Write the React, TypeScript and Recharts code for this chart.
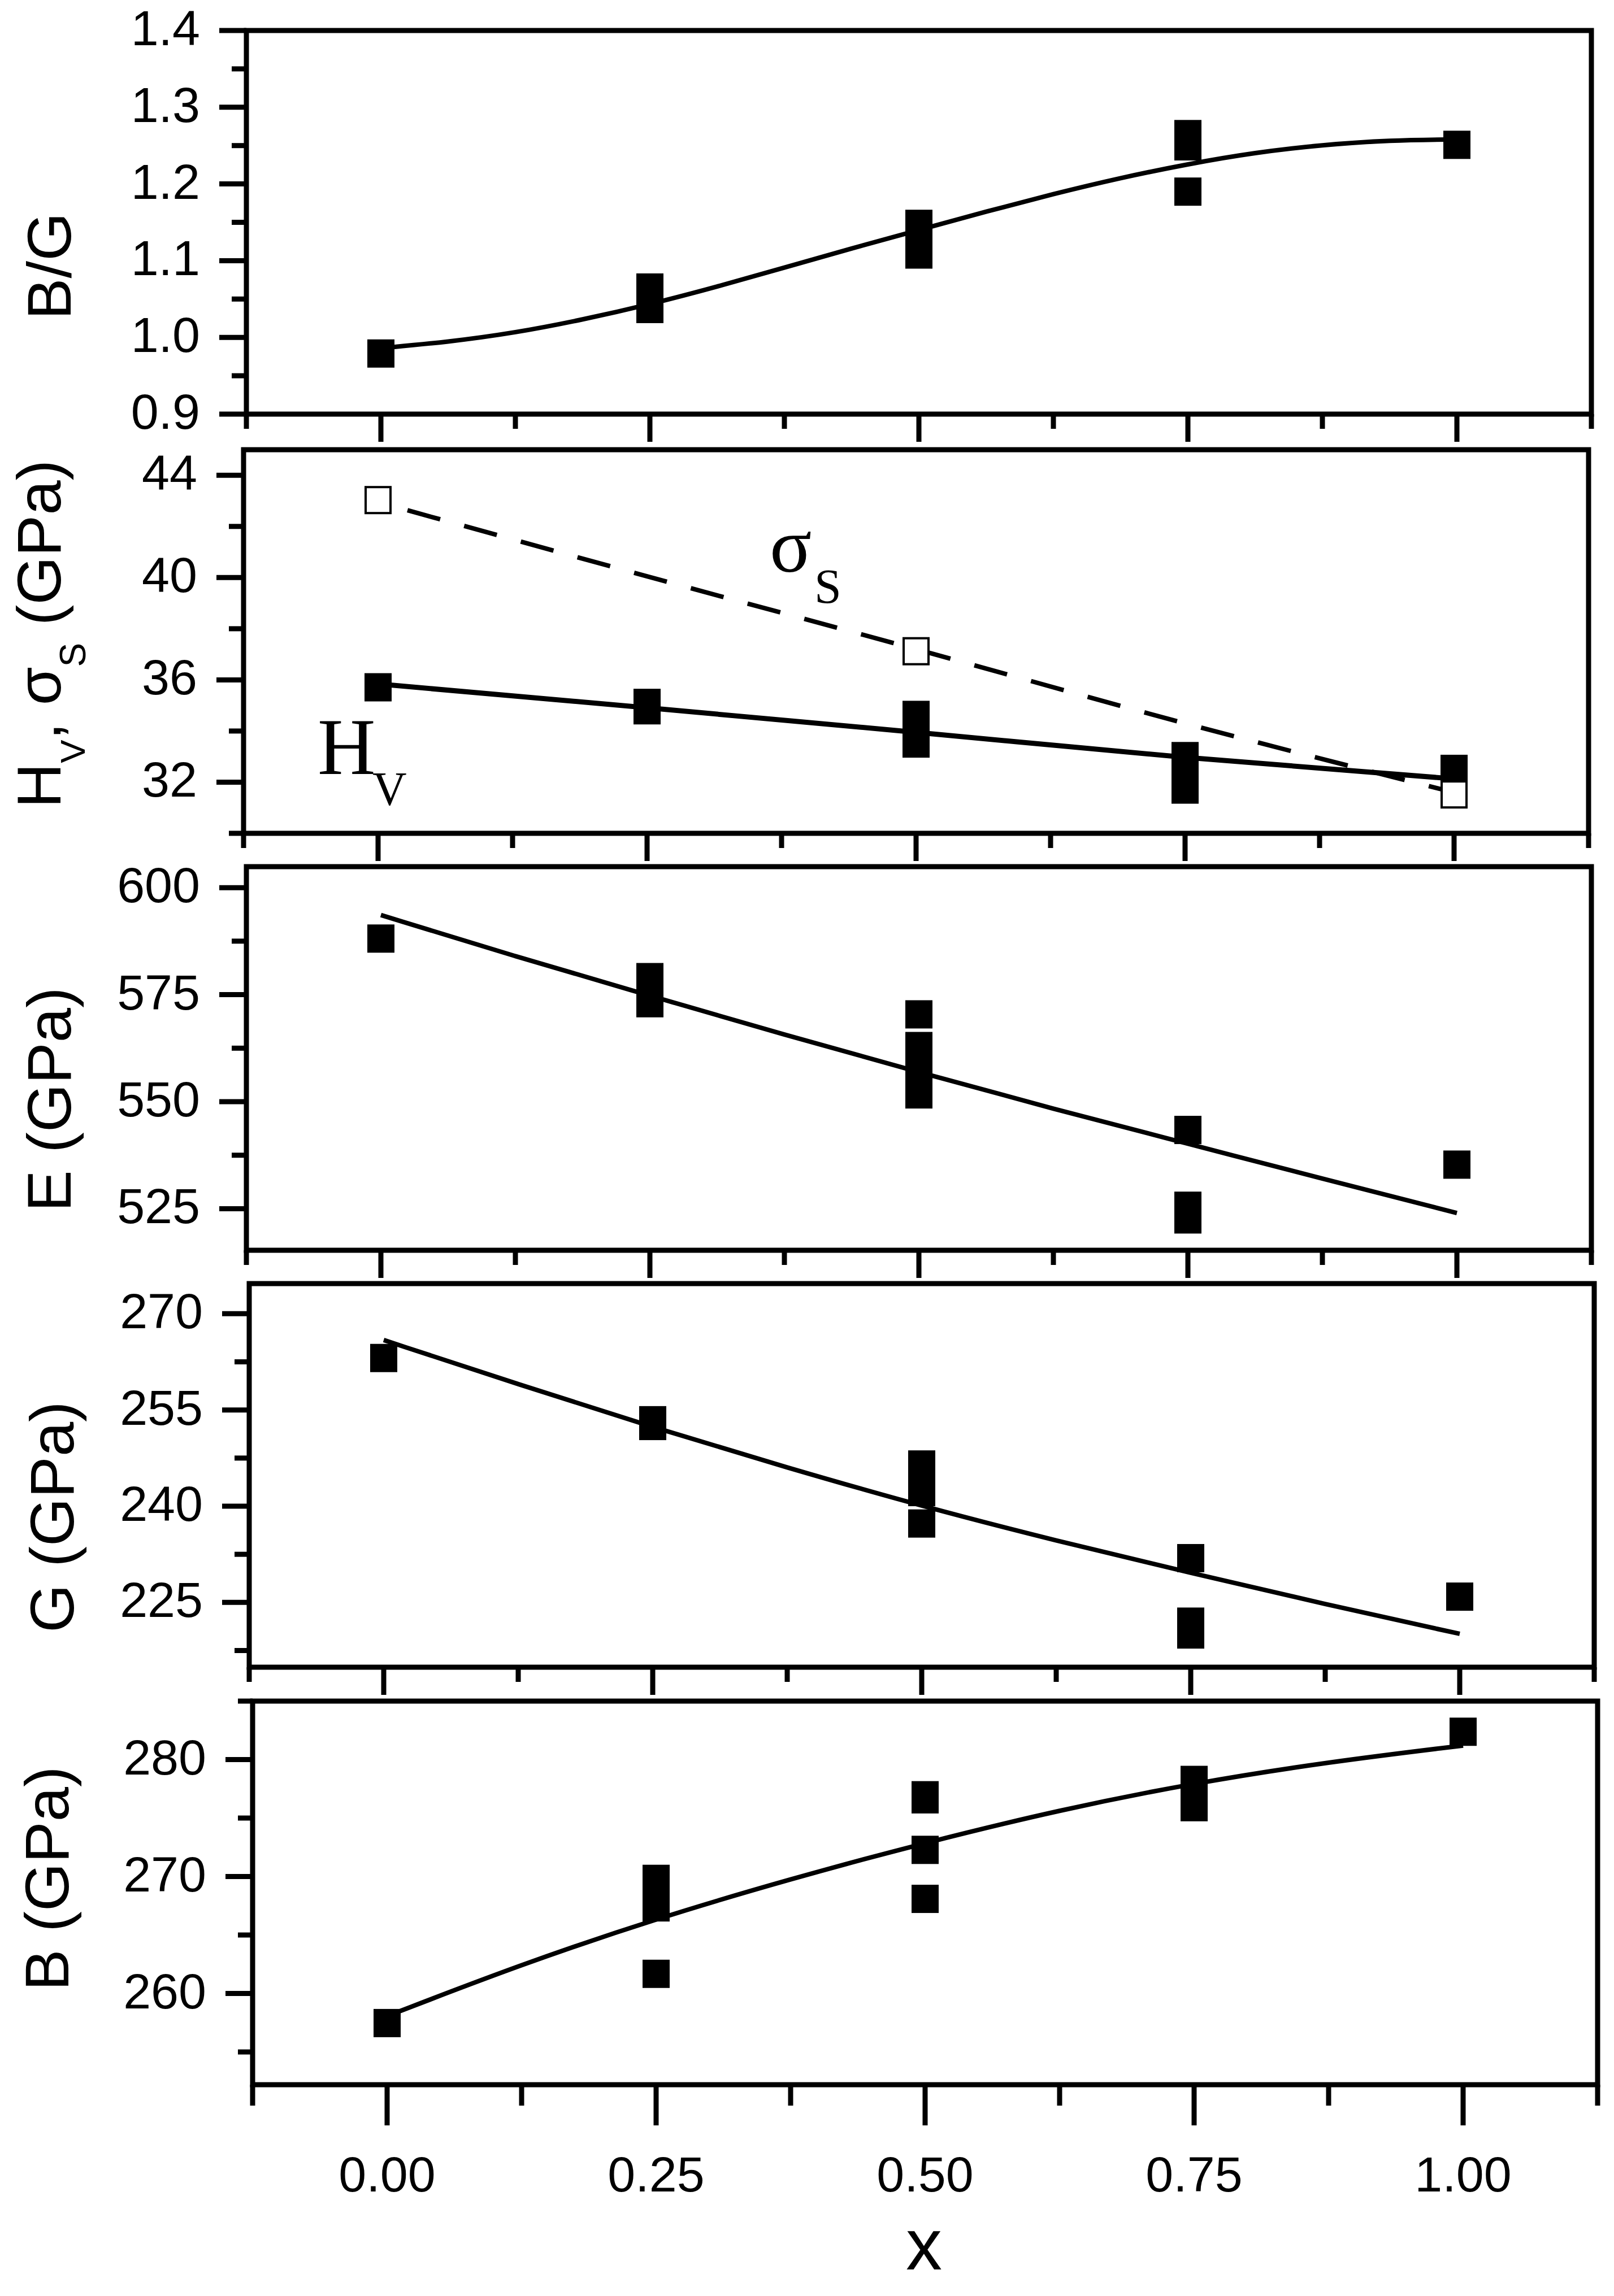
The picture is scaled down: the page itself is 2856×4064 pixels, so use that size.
import React from 'react';
import { ComposedChart, Line, Scatter, XAxis, YAxis, ReferenceArea } from 'recharts';

// ---- data ----
const xTicks = [-0.125, 0, 0.125, 0.25, 0.375, 0.5, 0.625, 0.75, 0.875, 1, 1.125];
const xMajor = [0, 0.25, 0.5, 0.75, 1];

// B/G
const bgTicks = [0.9, 0.95, 1.0, 1.05, 1.1, 1.15, 1.2, 1.25, 1.3, 1.35, 1.4];
const bgMajor = [0.9, 1.0, 1.1, 1.2, 1.3, 1.4];
const bgPoints = [
  { x: 0, y: 0.979 },
  { x: 0.25, y: 1.065 }, { x: 0.25, y: 1.051 }, { x: 0.25, y: 1.037 },
  { x: 0.5, y: 1.148 }, { x: 0.5, y: 1.134 }, { x: 0.5, y: 1.121 }, { x: 0.5, y: 1.108 },
  { x: 0.75, y: 1.265 }, { x: 0.75, y: 1.249 }, { x: 0.75, y: 1.19 },
  { x: 1, y: 1.251 },
];
const bgFit = [
  { x: 0, y: 0.986 }, { x: 0.0625, y: 0.994 }, { x: 0.125, y: 1.006 }, { x: 0.1875, y: 1.023 },
  { x: 0.25, y: 1.043 }, { x: 0.3125, y: 1.066 }, { x: 0.375, y: 1.091 }, { x: 0.4375, y: 1.116 },
  { x: 0.5, y: 1.14 }, { x: 0.5625, y: 1.164 }, { x: 0.625, y: 1.187 }, { x: 0.6875, y: 1.208 },
  { x: 0.75, y: 1.226 }, { x: 0.8125, y: 1.241 }, { x: 0.875, y: 1.251 }, { x: 0.9375, y: 1.257 },
  { x: 1, y: 1.258 },
];

// Hv and sigma_s
const hvTicks = [30, 32, 34, 36, 38, 40, 42, 44];
const hvMajor = [32, 36, 40, 44];
const hvPoints = [
  { x: 0, y: 35.71 },
  { x: 0.25, y: 35.1 }, { x: 0.25, y: 34.81 },
  { x: 0.5, y: 34.63 }, { x: 0.5, y: 34.07 }, { x: 0.5, y: 33.51 },
  { x: 0.75, y: 33.02 }, { x: 0.75, y: 32.36 }, { x: 0.75, y: 31.71 },
  { x: 1, y: 32.52 },
];
const hvFit = [
  { x: 0, y: 35.84 }, { x: 0.25, y: 34.91 }, { x: 0.5, y: 33.95 }, { x: 0.75, y: 32.97 }, { x: 1, y: 32.13 },
];
const sigmaPoints = [
  { x: 0, y: 43.03 }, { x: 0.5, y: 37.12 }, { x: 1, y: 31.52 },
];
const sigmaFit = [
  { x: 0, y: 42.95 }, { x: 0.25, y: 40.05 }, { x: 0.5, y: 37.2 }, { x: 0.75, y: 34.3 }, { x: 1, y: 31.6 },
];

// E
const eTicks = [525, 537.5, 550, 562.5, 575, 587.5, 600];
const eMajor = [525, 550, 575, 600];
const ePoints = [
  { x: 0, y: 588.1 },
  { x: 0.25, y: 579.1 }, { x: 0.25, y: 576.0 }, { x: 0.25, y: 573.0 },
  { x: 0.5, y: 570.4 }, { x: 0.5, y: 563.0 }, { x: 0.5, y: 559.2 }, { x: 0.5, y: 555.5 }, { x: 0.5, y: 551.7 },
  { x: 0.75, y: 543.4 }, { x: 0.75, y: 525.7 }, { x: 0.75, y: 522.5 },
  { x: 1, y: 535.3 },
];
const eFit = [
  { x: 0, y: 593.6 }, { x: 0.125, y: 583.9 }, { x: 0.25, y: 574.8 }, { x: 0.375, y: 565.6 },
  { x: 0.5, y: 556.9 }, { x: 0.625, y: 548.3 }, { x: 0.75, y: 540.2 }, { x: 0.875, y: 532.0 },
  { x: 1, y: 524.0 },
];

// G
const gTicks = [217.5, 225, 232.5, 240, 247.5, 255, 262.5, 270];
const gMajor = [225, 240, 255, 270];
const gPoints = [
  { x: 0, y: 263.1 },
  { x: 0.25, y: 253.4 }, { x: 0.25, y: 252.5 },
  { x: 0.5, y: 246.5 }, { x: 0.5, y: 244.3 }, { x: 0.5, y: 242.2 }, { x: 0.5, y: 237.3 },
  { x: 0.75, y: 231.9 }, { x: 0.75, y: 222.0 }, { x: 0.75, y: 220.0 },
  { x: 1, y: 225.9 },
];
const gFit = [
  { x: 0, y: 265.9 }, { x: 0.125, y: 259.0 }, { x: 0.25, y: 252.3 }, { x: 0.375, y: 246.0 },
  { x: 0.5, y: 240.0 }, { x: 0.625, y: 234.6 }, { x: 0.75, y: 229.6 }, { x: 0.875, y: 224.7 },
  { x: 1, y: 220.1 },
];

// B
const bTicks = [255, 260, 265, 270, 275, 280, 285];
const bMajor = [260, 270, 280];
const bPoints = [
  { x: 0, y: 257.47 },
  { x: 0.25, y: 269.8 }, { x: 0.25, y: 268.6 }, { x: 0.25, y: 267.36 }, { x: 0.25, y: 261.68 },
  { x: 0.5, y: 276.95 }, { x: 0.5, y: 276.6 }, { x: 0.5, y: 272.28 }, { x: 0.5, y: 268.09 },
  { x: 0.75, y: 278.26 }, { x: 0.75, y: 277.1 }, { x: 0.75, y: 275.93 },
  { x: 1, y: 282.38 },
];
const bFit = [
  { x: 0, y: 258.07 }, { x: 0.125, y: 262.5 }, { x: 0.25, y: 266.4 }, { x: 0.375, y: 269.8 },
  { x: 0.5, y: 272.9 }, { x: 0.625, y: 275.7 }, { x: 0.75, y: 278.0 }, { x: 0.875, y: 279.8 },
  { x: 1, y: 281.2 },
];

// ---- layout ----
const W = 2856;
const H = 4064;
const PLOT_W = 2380;
const PLOT_H = 679;
const Y_AXIS_W = 300;
const TOP_PAD = 60;
const X_DOMAIN = [-0.125, 1.125];
const SANS = '"Liberation Sans", Arial, sans-serif';
const SERIF = '"Liberation Serif", "Times New Roman", serif';
const FRAME_W = 9;
const FIT_W = 8;

const isMajor = (list: number[], v: number) => list.some((m) => Math.abs(m - v) < 1e-9);

const makeYTick = (majors: number[], digits: number) => (p: any) => {
  const v = p.payload.value;
  const major = isMajor(majors, v);
  return (
    <g>
      <line x1={p.x} x2={p.x - (major ? 48 : 26)} y1={p.y} y2={p.y} stroke="#000" strokeWidth={FRAME_W} />
      {major && (
        <text x={p.x - 82} y={p.y + 26} textAnchor="end" fontFamily={SANS} fontSize={88} fill="#000">
          {v.toFixed(digits)}
        </text>
      )}
    </g>
  );
};

const makeXTick = (last: boolean) => (p: any) => {
  const v = p.payload.value;
  const major = isMajor(xMajor, v);
  const len = last ? (major ? 72 : 37) : major ? 49 : 26;
  return (
    <g>
      <line x1={p.x} x2={p.x} y1={p.y} y2={p.y + len} stroke="#000" strokeWidth={FRAME_W} />
      {last && major && (
        <text x={p.x} y={p.y + 189} textAnchor="middle" fontFamily={SANS} fontSize={88} fill="#000">
          {v.toFixed(2)}
        </text>
      )}
    </g>
  );
};

const filledSquare = (p: any) => (
  <rect x={p.cx - 24} y={p.cy - 25} width={48} height={50} fill="#000" />
);
const openSquare = (p: any) => (
  <rect x={p.cx - 22} y={p.cy - 23} width={44} height={46} fill="#fff" stroke="#000" strokeWidth={4} />
);

interface PanelProps {
  top: number;
  left: number;
  domain: number[];
  ticks: number[];
  majors: number[];
  digits: number;
  last?: boolean;
  children?: React.ReactNode;
}

const Panel: React.FC<PanelProps> = ({ top, left, domain, ticks, majors, digits, last = false, children }) => {
  const xh = last ? 250 : 60;
  return (
    <div style={{ position: 'absolute', left: 0, top: top - TOP_PAD }}>
      <ComposedChart
        width={W}
        height={TOP_PAD + PLOT_H + xh}
        margin={{ top: TOP_PAD, right: W - left - PLOT_W, bottom: 0, left: left - Y_AXIS_W }}
      >
        <XAxis
          dataKey="x"
          type="number"
          domain={X_DOMAIN}
          ticks={xTicks}
          interval={0}
          tickSize={0}
          tickMargin={0}
          axisLine={false}
          tickLine={false}
          height={xh}
          allowDataOverflow
          tick={makeXTick(last)}
        />
        <YAxis
          dataKey="y"
          type="number"
          domain={domain}
          ticks={ticks}
          interval={0}
          tickSize={0}
          tickMargin={0}
          axisLine={false}
          tickLine={false}
          width={Y_AXIS_W}
          allowDataOverflow
          tick={makeYTick(majors, digits)}
        />
        <ReferenceArea
          x1={X_DOMAIN[0]}
          x2={X_DOMAIN[1]}
          y1={domain[0]}
          y2={domain[1]}
          fill="none"
          fillOpacity={0}
          stroke="#000"
          strokeWidth={FRAME_W}
        />
        {children}
      </ComposedChart>
    </div>
  );
};

const fitLine = (data: { x: number; y: number }[]) => (
  <Line
    data={data}
    dataKey="y"
    type="basis"
    stroke="#000"
    strokeWidth={FIT_W}
    dot={false}
    activeDot={false}
    isAnimationActive={false}
  />
);

export default function App() {
  return (
    <div style={{ position: 'absolute', left: 0, top: 0, width: W, height: H, background: '#fff', overflow: 'hidden' }}>
      <Panel top={54} left={436} domain={[0.9, 1.4]} ticks={bgTicks} majors={bgMajor} digits={1}>
        {fitLine(bgFit)}
        <Scatter data={bgPoints} dataKey="y" shape={filledSquare} isAnimationActive={false} />
      </Panel>

      <Panel top={796} left={431} domain={[30, 45]} ticks={hvTicks} majors={hvMajor} digits={0}>
        <Line
          data={hvFit}
          dataKey="y"
          type="monotone"
          stroke="#000"
          strokeWidth={9}
          dot={false}
          activeDot={false}
          isAnimationActive={false}
        />
        <Line
          data={sigmaFit}
          dataKey="y"
          type="monotone"
          stroke="#000"
          strokeWidth={8}
          strokeDasharray="60 44"
          strokeDashoffset={50}
          dot={false}
          activeDot={false}
          isAnimationActive={false}
        />
        <Scatter data={hvPoints} dataKey="y" shape={filledSquare} isAnimationActive={false} />
        <Scatter data={sigmaPoints} dataKey="y" shape={openSquare} isAnimationActive={false} />
      </Panel>

      <Panel top={1534} left={436} domain={[515.3, 604.9]} ticks={eTicks} majors={eMajor} digits={0}>
        {fitLine(eFit)}
        <Scatter data={ePoints} dataKey="y" shape={filledSquare} isAnimationActive={false} />
      </Panel>

      <Panel top={2272} left={441} domain={[214.9, 274.7]} ticks={gTicks} majors={gMajor} digits={0}>
        {fitLine(gFit)}
        <Scatter data={gPoints} dataKey="y" shape={filledSquare} isAnimationActive={false} />
      </Panel>

      <Panel top={3011} left={447} domain={[252.2, 285]} ticks={bTicks} majors={bMajor} digits={0} last>
        {fitLine(bFit)}
        <Scatter data={bPoints} dataKey="y" shape={filledSquare} isAnimationActive={false} />
      </Panel>

      {/* axis titles and in-plot labels */}
      <svg width={W} height={H} style={{ position: 'absolute', left: 0, top: 0, pointerEvents: 'none' }}>
        <g fontFamily={SANS} fontSize={110} fill="#000" textAnchor="middle">
          <text transform="translate(125,471) rotate(-90)">B/G</text>
          <text transform="translate(107,1122) rotate(-90)">
            H<tspan dy={43} fontSize={62}>V</tspan>
            <tspan dy={-43}>, σ</tspan>
            <tspan dy={44} fontSize={64}>S</tspan>
            <tspan dy={-44}> (GPa)</tspan>
          </text>
          <text transform="translate(125,1946) rotate(-90)">E (GPa)</text>
          <text transform="translate(130,2685) rotate(-90)">G (GPa)</text>
          <text transform="translate(121,3325) rotate(-90)">B (GPa)</text>
        </g>
        <text x={1635} y={4017} textAnchor="middle" fontFamily={SANS} fontSize={128} fill="#000">
          x
        </text>
        <g fontFamily={SERIF} fill="#000">
          <text x={562} y={1370} fontSize={142}>H</text>
          <text x={659} y={1425} fontSize={84}>V</text>
          <text x={1362} y={1012} fontSize={138}>σ</text>
          <text x={1441} y={1067} fontSize={86}>S</text>
        </g>
      </svg>
    </div>
  );
}
